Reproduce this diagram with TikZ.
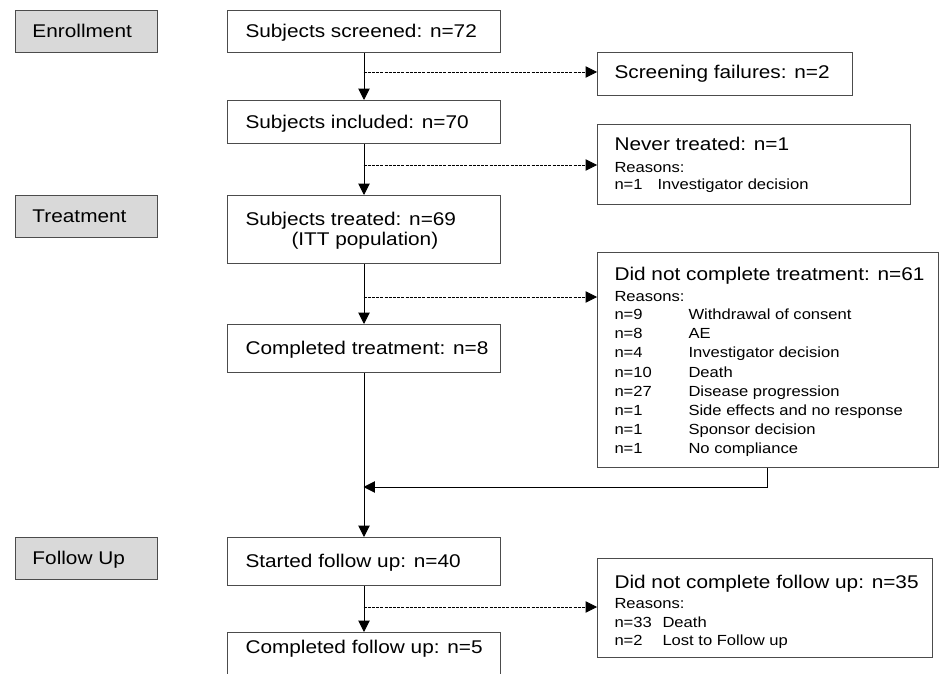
\documentclass[tikz,border=0pt]{standalone}
\usepackage{fontspec}
\setmainfont{Liberation Sans}[FakeStretch=1.13]
\usetikzlibrary{arrows.meta}
\newcommand\bigf{\fontsize{13.8pt}{15pt}\selectfont}
\newcommand\smallf{\fontsize{11pt}{13pt}\selectfont}
\begin{document}
\begin{tikzpicture}[x=0.75pt,y=-0.75pt,line width=0.75pt,
  box/.style 2 args={draw=black!70, fill=white, rectangle, inner sep=0pt, anchor=north west,
     minimum width={#1*0.75pt}, minimum height={#2*0.75pt}},
  stagebox/.style 2 args={box={#1}{#2}, fill=black!15},
  big/.style={anchor=base west, inner sep=0pt, font=\bigf},
  small/.style={anchor=base west, inner sep=0pt, font=\smallf},
  flow/.style={draw=black, -{Triangle[length=8.5pt,width=8.5pt]}},
  side/.style={flow, dash pattern=on 2.25pt off 0.9pt, line width=0.6pt},
]
\useasboundingbox (0,0) rectangle (940,674);
\clip (0,0) rectangle (940,674);
\fill[white] (0,0) rectangle (940,674);

% stage boxes
\node[stagebox={142}{42}] (enr) at (15,10) {};
\node[big] (enrt) at (32,37.6) {Enrollment};
\node[stagebox={142}{42}] (tre) at (15,195) {};
\node[big] (tret) at (32,222.6) {Treatment};
\node[stagebox={142}{42}] (fol) at (15,537) {};
\node[big] (folt) at (32,564.6) {Follow Up};

% main column
\node[box={273}{42}] (scr) at (227,10) {};
\node[big] (scrt) at (245,37.6) {Subjects screened: n=72};
\node[box={273}{43}] (inc) at (227,100) {};
\node[big] (inct) at (245,128.1) {Subjects included: n=70};
\node[box={273}{68}] (trt) at (227,195) {};
\node[big] (trt1) at (245,225) {Subjects treated: n=69};
\node[big] (trt2) at (291,245) {(ITT population)};
\node[box={273}{48}] (ctr) at (227,324) {};
\node[big] (ctrt) at (245,354) {Completed treatment: n=8};
\node[box={273}{48}] (sfu) at (227,537) {};
\node[big] (sfut) at (245,567.4) {Started follow up: n=40};
\node[box={273}{60}] (cfu) at (227,632) {};
\node[big] (cfut) at (245,653) {Completed follow up: n=5};

% side boxes
\node[box={255}{43}] (scf) at (597,52) {};
\node[big] (scft) at (614,79) {Screening failures: n=2};

\node[box={313}{80}] (nt) at (597,124) {};
\node[big] (ntt) at (614,151) {Never treated: n=1};
\node[small] (ntr) at (614,172) {Reasons:};
\node[small] (ntn) at (614,190) {n=1};
\node[small] (ntd) at (657,190) {Investigator decision};

\node[box={341}{215}] (dnct) at (597,252) {};
\node[big] (dnctt) at (614,280) {Did not complete treatment: n=61};
\node[small] (dnctr) at (614,301) {Reasons:};
\foreach \n/\d [count=\i from 0] in {n=9/Withdrawal of consent, n=8/AE, n=4/Investigator decision,
   n=10/Death, n=27/Disease progression, n=1/Side effects and no response,
   n=1/Sponsor decision, n=1/No compliance}{
  \node[small] (dnctn\i) at (614,{319.3+19.24*\i}) {\n};
  \node[small] (dnctd\i) at (688,{319.3+19.24*\i}) {\d};
}

\node[box={335}{99}] (dncf) at (597,558) {};
\node[big] (dncft) at (614,588) {Did not complete follow up: n=35};
\node[small] (dncfr) at (614,608) {Reasons:};
\node[small] (dncfn1) at (614,627) {n=33};
\node[small] (dncfd1) at (662,627) {Death};
\node[small] (dncfn2) at (614,645.5) {n=2};
\node[small] (dncfd2) at (662,645.5) {Lost to Follow up};

% main flow
\draw[flow] (scr.south) -- (inc.north);
\draw[flow] (inc.south) -- (trt.north);
\draw[flow] (trt.south) -- (ctr.north);
\draw[flow] (ctr.south) -- (sfu.north);
\draw[flow] (sfu.south) -- (cfu.north);

% branches
\coordinate (b1) at (363.5,72);
\coordinate (b2) at (363.5,165);
\coordinate (b3) at (363.5,297);
\coordinate (b4) at (363.5,607);
\draw[side] (b1) -- (b1 -| scf.west);
\draw[side] (b2) -- (b2 -| nt.west);
\draw[side] (b3) -- (b3 -| dnct.west);
\draw[side] (b4) -- (b4 -| dncf.west);

% return
\coordinate (r0) at (767,467);
\coordinate (r1) at (767,487);
\coordinate (r2) at (363.5,487);
\draw[flow] (r0 |- dnct.south) -- (r1) -- (r2);
\end{tikzpicture}
\end{document}
